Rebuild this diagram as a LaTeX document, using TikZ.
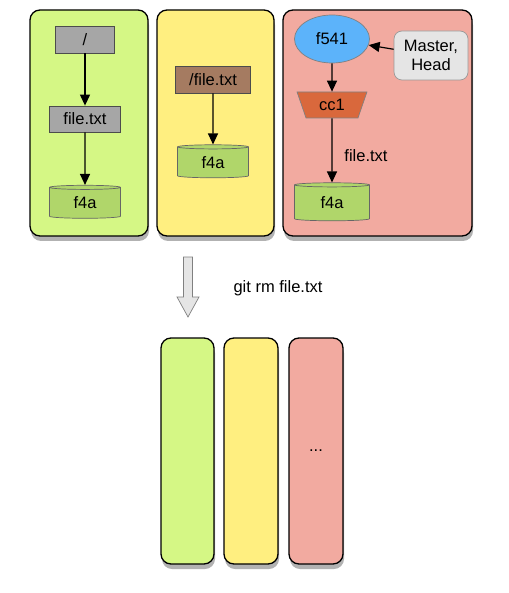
\documentclass[tikz,border=0pt]{standalone}
\usepackage{fontspec}
\setmainfont{Liberation Sans}
\usepackage{xcolor}
\usepackage{tikz}
\usetikzlibrary{shapes.geometric, arrows.meta}

\definecolor{panelgreen}{RGB}{213,247,133}
\definecolor{panelyellow}{RGB}{255,239,128}
\definecolor{panelpink}{RGB}{242,170,160}
\definecolor{treegray}{RGB}{166,166,166}
\definecolor{treebrown}{RGB}{165,123,97}
\definecolor{blobgreen}{RGB}{176,214,106}
\definecolor{commitblue}{RGB}{92,179,250}
\definecolor{treeorange}{RGB}{217,104,60}

\begin{document}
\begin{tikzpicture}[
    x=1pt, y=-1pt,
    % Node styles with colors
    panel/.style={rectangle, rounded corners=10pt, draw=black, line width=1.3pt, preaction={draw=none, fill=black!30, transform canvas={xshift=1pt, yshift=-5pt}}},
    treebox/.style={rectangle, draw=black!70, line width=0.8pt, minimum width=71pt, minimum height=26pt, inner sep=0pt, font=\fontsize{16.5}{19}\selectfont},
    blobcyl/.style={cylinder, shape border rotate=90, aspect=0.18, draw=black!60, line width=0.7pt, fill=blobgreen, minimum width=71pt, minimum height=33pt, inner sep=0pt, font=\fontsize{16.5}{19}\selectfont},
    lab/.style={font=\fontsize{16.5}{19}\selectfont},
    myarrow/.style={-{Triangle[length=11pt,width=10pt]}, line width=1.2pt, black}
]
\useasboundingbox (0,0) rectangle (508,593);

% === BEFORE ===
\node[panel, fill=panelgreen, minimum width=118pt, minimum height=226pt] (pan1) at (89,123) {};
\node[panel, fill=panelyellow, minimum width=117pt, minimum height=226pt] (pan2) at (215.5,123) {};
\node[panel, fill=panelpink, minimum width=189pt, minimum height=226pt] (pan3) at (377.5,123) {};

% first panel: tree -> tree -> blob
\node[treebox, fill=treegray, minimum width=59pt, minimum height=27pt] (root) at (85,39.5) {/};
\node[treebox, fill=treegray] (file) at (85,119) {file.txt};
\node[blobcyl] (blob1) at (85,203) {f4a};

\draw[myarrow] (root.south) -- (file.north);
\draw[myarrow] (file.south) -- (blob1.north);

% second panel: tree -> blob
\node[treebox, fill=treebrown, minimum width=75pt, minimum height=27pt] (tree2) at (213,79.5) {/file.txt};
\node[blobcyl] (blob2) at (213,162.5) {f4a};

\draw[myarrow] (tree2.south) -- (blob2.north);

% third panel: commit -> tree -> blob
\node[ellipse, draw=black!50, line width=0.7pt, fill=commitblue, minimum width=75pt, minimum height=48pt, inner sep=0pt, lab] (commit) at (332,39) {f541};
\node[rectangle, rounded corners=8pt, draw=black!40, line width=0.7pt, fill=black!10, minimum width=74pt, minimum height=49pt, inner sep=0pt, align=center, lab] (head) at (431,55.5) {Master,\\Head};
\node[trapezium, trapezium angle=69, shape border rotate=180, trapezium stretches=true, draw=black!50, line width=0.7pt, fill=treeorange, minimum width=70pt, minimum height=26pt, inner sep=0pt, lab] (tree3) at (332,105) {cc1};
\node[blobcyl, minimum width=75pt, minimum height=38pt] (blob3) at (332,203) {f4a};
\node[lab] (edgelab) at (366,156) {file.txt};

\draw[myarrow] (head) -- (commit);
\draw[myarrow] (commit.south) -- (tree3.north);
\draw[myarrow] (tree3.south) -- (blob3.north);

% === COMMAND ===
% big hollow arrow
\draw[draw=black!50, line width=0.7pt, fill=black!10]
    (183.5,257) -- (192.5,257) -- (192.5,297) -- (199,297) -- (188,317) -- (177,297) -- (183.5,297) -- cycle;
\node[lab] (cmd) at (278,288) {git rm file.txt};

% === AFTER ===
\node[panel, fill=panelgreen, minimum width=53pt, minimum height=226pt] (after1) at (187.5,451) {};
\node[panel, fill=panelyellow, minimum width=54pt, minimum height=226pt] (after2) at (251,451) {};
\node[panel, fill=panelpink, minimum width=54pt, minimum height=226pt, lab] (after3) at (316,451) {...};

\end{tikzpicture}
\end{document}
